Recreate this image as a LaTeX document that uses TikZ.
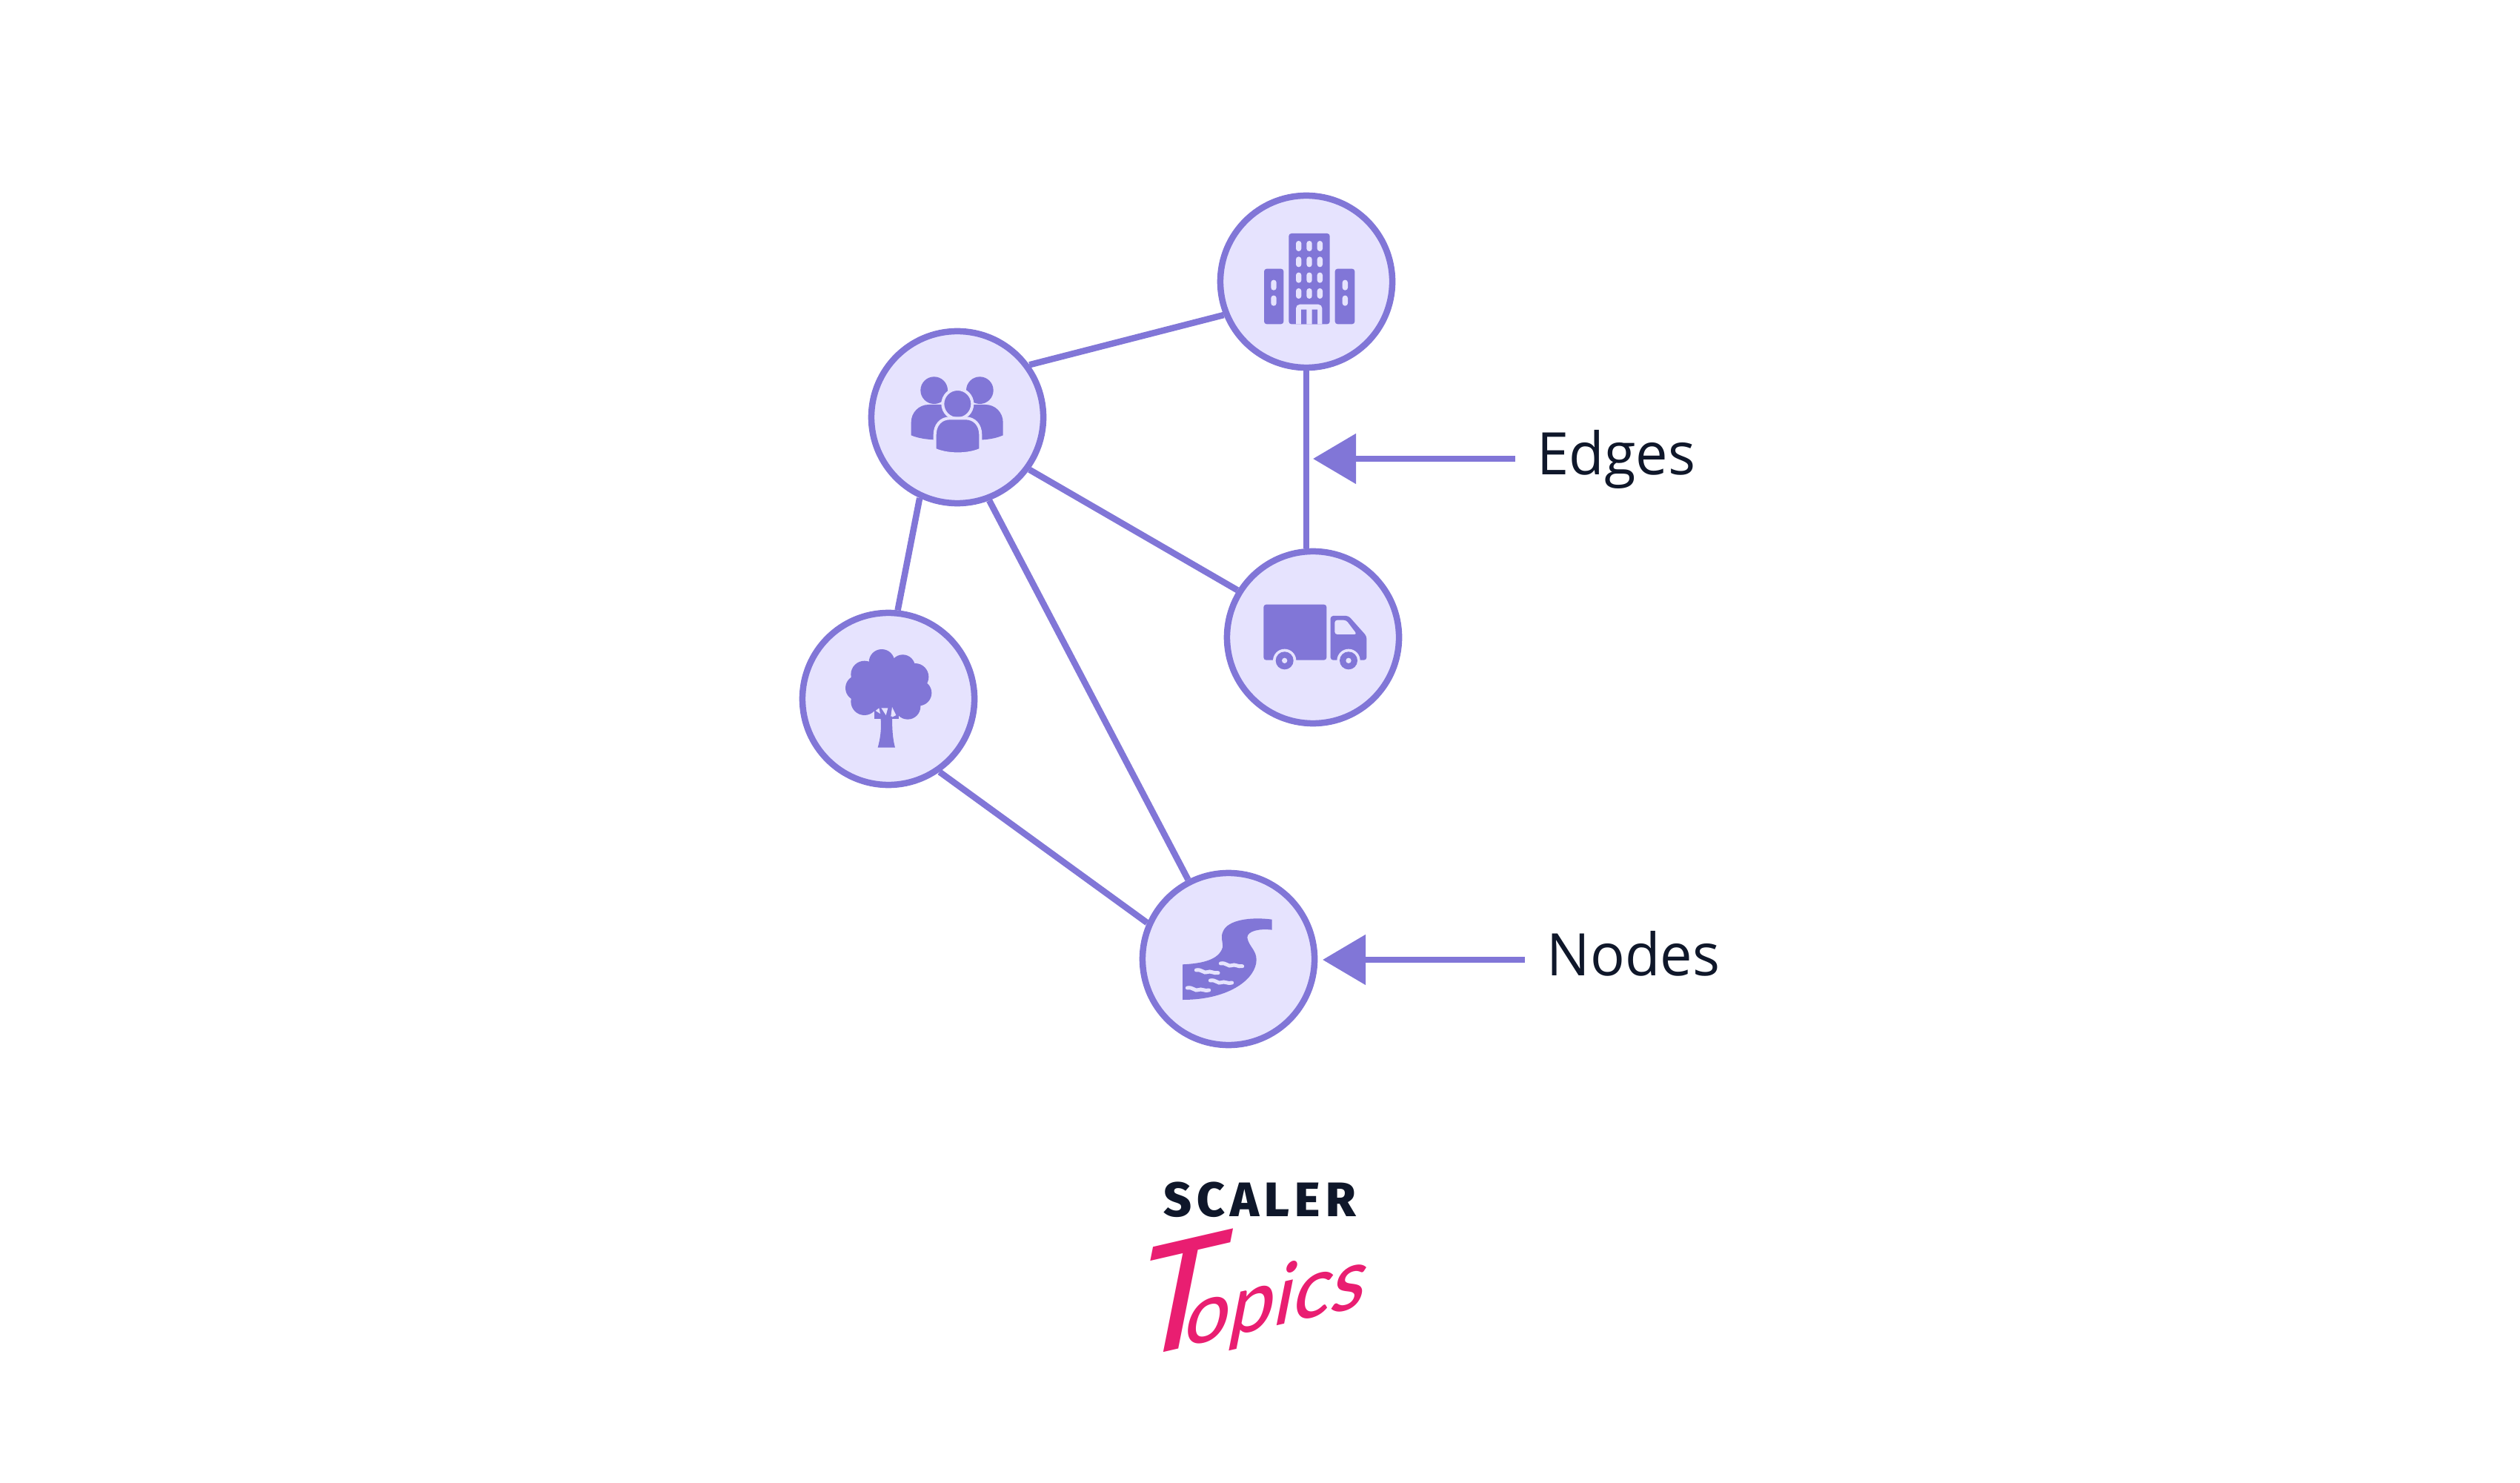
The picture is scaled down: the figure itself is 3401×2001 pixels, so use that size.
\documentclass[tikz,border=0pt]{standalone}
\usepackage{fontspec}
\usepackage{tikz}
\usetikzlibrary{arrows.meta}
\setmainfont[FakeStretch=0.98]{Open Sans}
\newfontfamily\scalerfont[LetterSpace=11]{Fira Sans ExtraBold}
\newfontfamily\topicsfont[FakeSlant=0.45]{Lato Medium}
\definecolor{graphpurple}{RGB}{129,118,215}
\definecolor{graphlight}{RGB}{230,227,254}
\definecolor{inkdark}{RGB}{15,23,42}
\definecolor{topicspink}{RGB}{233,30,113}
\tikzset{
  place/.style={circle,draw=graphpurple,fill=graphlight,line width=0.085cm,minimum size=2.32cm,inner sep=0pt},
  link/.style={draw=graphpurple,line width=0.085cm},
  pointer/.style={draw=graphpurple,line width=0.085cm,{Triangle[length=0.58cm,width=0.66cm]}-},
  caption/.style={text=inkdark,font=\fontsize{22.5}{28}\selectfont,anchor=base west,inner xsep=0.29cm,inner ysep=0pt},
  solid icon/.style={fill=graphpurple},
  cut icon/.style={fill=graphlight},
  wave/.style={draw=graphlight,line width=0.05cm,line cap=round}
}

\begin{document}
\begin{tikzpicture}[x=0.01cm,y=-0.01cm]
\useasboundingbox (0,0) rectangle (3401,2001);

% Places
\node[place] (building) at (1763,380) {};
\node[place] (people) at (1292,563) {};
\node[place] (tree) at (1199,943) {};
\node[place] (truck) at (1772,860) {};
\node[place] (river) at (1658,1294) {};

% Links
\draw[link] (people.36) -- (building.202);
\draw[link] (building.south) -- (building.south |- truck.north);
\draw[link] (people.-36) -- (truck.148);
\draw[link] (people.245) -- (tree.84);
\draw[link] (people.-69) -- (river.117);
\draw[link] (tree.-55) -- (river.156);

% Labels
\coordinate (edgestip) at (1772,619);
\coordinate (nodestip) at (1785,1295);
\node[caption] (edgeslabel) at (2045,641) {Edges};
\node[caption] (nodeslabel) at (2058,1316) {Nodes};
\draw[pointer] (edgestip) -- (edgeslabel.west |- edgestip);
\draw[pointer] (nodestip) -- (nodeslabel.west |- nodestip);

% Logo
\node[text=inkdark,font=\scalerfont\fontsize{18.6}{22}\selectfont,inner sep=0pt] (scaler) at (1700,1619) {SCALER};
\node[text=topicspink,font=\topicsfont\fontsize{31}{36}\selectfont,inner sep=0pt,rotate=13] (topics) at (1667,1739)
  {{\fontsize{56}{56}\selectfont T}\kern-0.4em opics};

% Building icon
\begin{scope}[shift={(1600,240)},scale=1/3]
\fill[solid icon,rounded corners=1pt] (318,368) rectangle (397,592);
\fill[solid icon,rounded corners=1pt] (605,368) rectangle (685,592);
\fill[solid icon,rounded corners=1pt] (418,225) rectangle (584,592);
\fill[cut icon,rounded corners=1pt] (447,255) rectangle +(22,42) (490,255) rectangle +(22,42) (533,255) rectangle +(22,42);
\fill[cut icon,rounded corners=1pt] (447,319) rectangle +(22,42) (490,319) rectangle +(22,42) (533,319) rectangle +(22,42);
\fill[cut icon,rounded corners=1pt] (447,383) rectangle +(22,42) (490,383) rectangle +(22,42) (533,383) rectangle +(22,42);
\fill[cut icon,rounded corners=1pt] (447,447) rectangle +(22,42) (490,447) rectangle +(22,42) (533,447) rectangle +(22,42);
\fill[cut icon,rounded corners=1pt] (346,413) rectangle +(22,42) (346,476) rectangle +(22,42);
\fill[cut icon,rounded corners=1pt] (635,413) rectangle +(22,42) (635,476) rectangle +(22,42);
\fill[cut icon] (447,592) -- (447,530) [rounded corners=1.5pt] -- (447,512) -- (553,512) [sharp corners] -- (553,592) -- cycle;
\fill[solid icon] (468,533) rectangle (490,592) (512,533) rectangle (534,592);
\end{scope}

% People icon
\begin{scope}[shift={(1150,430)},scale=1/3]
\fill[solid icon] (332,290) circle[radius=55] (517,290) circle[radius=55];
\fill[solid icon] (239,472) -- (239,420) .. controls (239,380) and (270,348) .. (310,348) -- (540,348)
  .. controls (580,348) and (611,380) .. (611,420) -- (611,472) .. controls (585,483) and (560,488) .. (530,490)
  -- (330,490) .. controls (295,488) and (265,483) .. (239,472) -- cycle;
\filldraw[solid icon,draw=graphlight,line width=0.04cm] (427,345) circle[radius=60];
\filldraw[solid icon,draw=graphlight,line width=0.04cm] (335,530) -- (335,470) .. controls (335,430) and (360,403) .. (395,403)
  -- (460,403) .. controls (495,403) and (520,430) .. (520,470) -- (520,530)
  .. controls (470,553) and (385,553) .. (335,530) -- cycle;
\end{scope}

% Tree icon
\begin{scope}[shift={(1050,810)},scale=1/3]
\fill[solid icon] (420,250) circle[radius=52] (505,270) circle[radius=50] (350,300) circle[radius=55]
  (555,310) circle[radius=55] (325,355) circle[radius=52] (350,410) circle[radius=55]
  (570,375) circle[radius=52] (525,430) circle[radius=52] (440,340) circle[radius=100];
\fill[solid icon] (390,425) rectangle (490,480);
\fill[cut icon] (395,447) -- (409,436) -- (414,459) -- cycle;
\fill[cut icon] (418,436) -- (445,436) -- (437,465) -- cycle;
\fill[cut icon] (462,432) -- (478,465) -- (456,476) -- cycle;
\fill[solid icon] (404,596) .. controls (414,560) and (420,520) .. (415,470) -- (462,470)
  .. controls (462,520) and (464,560) .. (474,596) -- cycle;
\end{scope}

% Truck icon
\begin{scope}[shift={(1630,730)},scale=1/3]
\fill[solid icon,rounded corners=1pt] (226,257) rectangle (481,482);
\fill[solid icon,rounded corners=1pt] (497,482) -- (497,303) -- (570,303) -- (643,385) -- (643,482) -- cycle;
\fill[cut icon] (311,484) circle[radius=47] (570,484) circle[radius=47];
\fill[cut icon] (250,495) rectangle (370,530) (510,495) rectangle (630,530);
\fill[solid icon] (311,484) circle[radius=36] (570,484) circle[radius=36];
\fill[cut icon] (311,484) circle[radius=11] (570,484) circle[radius=11];
\fill[cut icon,rounded corners=1pt] (514,320) -- (560,320) -- (604,378) -- (514,378) -- cycle;
\end{scope}

% River icon
\begin{scope}[shift={(1530,1170)},scale=1/3]
\fill[solid icon] (198,394) .. controls (280,390) and (345,375) .. (360,325) .. controls (362,300) and (350,285) .. (362,260)
  .. controls (380,215) and (470,200) .. (560,212) -- (560,254) .. controls (510,248) and (460,258) .. (460,285)
  .. controls (465,320) and (497,335) .. (497,375) .. controls (497,450) and (390,537) .. (198,537) -- cycle;
\draw[wave] (253,417) .. controls (275,412) and (285,432) .. (298,425) .. controls (310,418) and (325,432) .. (342,428);
\draw[wave] (352,390) .. controls (374,385) and (384,405) .. (397,398) .. controls (409,391) and (424,405) .. (440,401);
\draw[wave] (310,459) .. controls (332,454) and (342,474) .. (355,467) .. controls (367,460) and (382,474) .. (398,468);
\draw[wave] (217,489) .. controls (239,484) and (249,504) .. (262,497) .. controls (274,490) and (289,504) .. (305,498);
\end{scope}
\end{tikzpicture}
\end{document}
